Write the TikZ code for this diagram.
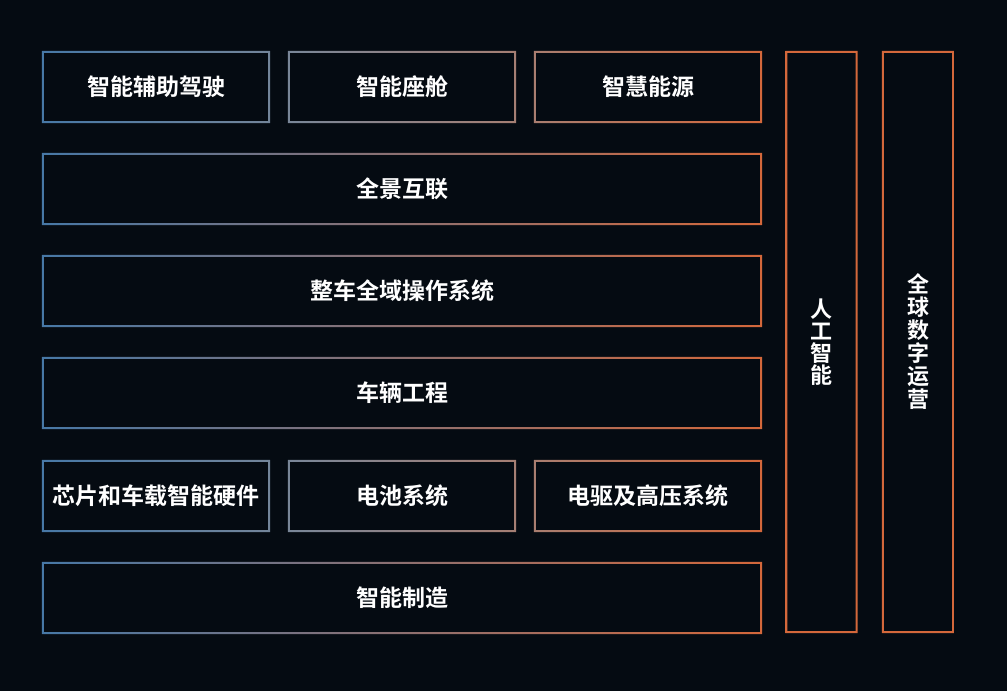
\documentclass[tikz,border=0pt]{standalone}
\usepackage{fontspec}
\newfontfamily\cjk{Noto Sans CJK SC}[BoldFont={* Bold}]
\usepackage{xcolor}
\usetikzlibrary{positioning}
\definecolor{bgc}{HTML}{050B12}
\definecolor{bb}{HTML}{4778A6}
\definecolor{gy}{HTML}{8C8C93}
\definecolor{ob}{HTML}{D4683B}

\tikzset{
  panel/.style={inner sep=0pt,text=white,font=\cjk\bfseries\fontsize{23}{28}\selectfont,minimum height=72pt},
  tallpanel/.style={panel,minimum width=72pt,minimum height=582pt,align=center}
}

\begin{document}
\begin{tikzpicture}[x=1pt,y=-1pt]
\fill[bgc](0,0)rectangle(1007,691);
\useasboundingbox(0,0)rectangle(1007,691);
% top row
\node[panel,minimum width=228pt](adas)at(156,87){\raisebox{-2pt}{智能辅助驾驶}};
\node[panel,minimum width=228pt](cabin)at(402,87){\raisebox{-2pt}{智能座舱}};
\node[panel,minimum width=228pt](energy)at(648,87){\raisebox{-2pt}{智慧能源}};
% wide rows
\node[panel,minimum width=720pt](link)at(402,189){\raisebox{-2pt}{全景互联}};
\node[panel,minimum width=720pt](os)at(402,291){\raisebox{-2pt}{整车全域操作系统}};
\node[panel,minimum width=720pt](eng)at(402,393){\raisebox{-2pt}{车辆工程}};
% lower row
\node[panel,minimum width=228pt](chip)at(156,496){\raisebox{-2pt}{芯片和车载智能硬件}};
\node[panel,minimum width=228pt](batt)at(402,496){\raisebox{-2pt}{电池系统}};
\node[panel,minimum width=228pt](edrive)at(648,496){\raisebox{-2pt}{电驱及高压系统}};
\node[panel,minimum width=720pt](mfg)at(402,598){\raisebox{-2pt}{智能制造}};
% side columns
\node[tallpanel,font=\cjk\bfseries\fontsize{22}{22}\selectfont](ai)at(821.5,342){人\\工\\智\\能};
\node[tallpanel,font=\cjk\bfseries\fontsize{22}{23}\selectfont](ops)at(918,342){全\\球\\数\\字\\运\\营};
% gradient frames
\foreach \n/\l/\m/\r in {adas/bb/gy!32!bb/gy!64!bb,cabin/gy!72!bb/gy/ob!36!gy,
  energy/ob!40!gy/ob!70!gy/ob,link/bb/gy/ob,os/bb/gy/ob,eng/bb/gy/ob,
  chip/bb/gy!32!bb/gy!64!bb,batt/gy!72!bb/gy/ob!36!gy,edrive/ob!40!gy/ob!70!gy/ob,
  mfg/bb/gy/ob,ai/ob/ob/ob,ops/ob/ob/ob}
  \shade[even odd rule,left color=\l,middle color=\m,right color=\r]
    (\n.north west)rectangle(\n.south east)
    ([shift={(2,2)}]\n.north west)rectangle([shift={(-2,-2)}]\n.south east);
\end{tikzpicture}
\end{document}
